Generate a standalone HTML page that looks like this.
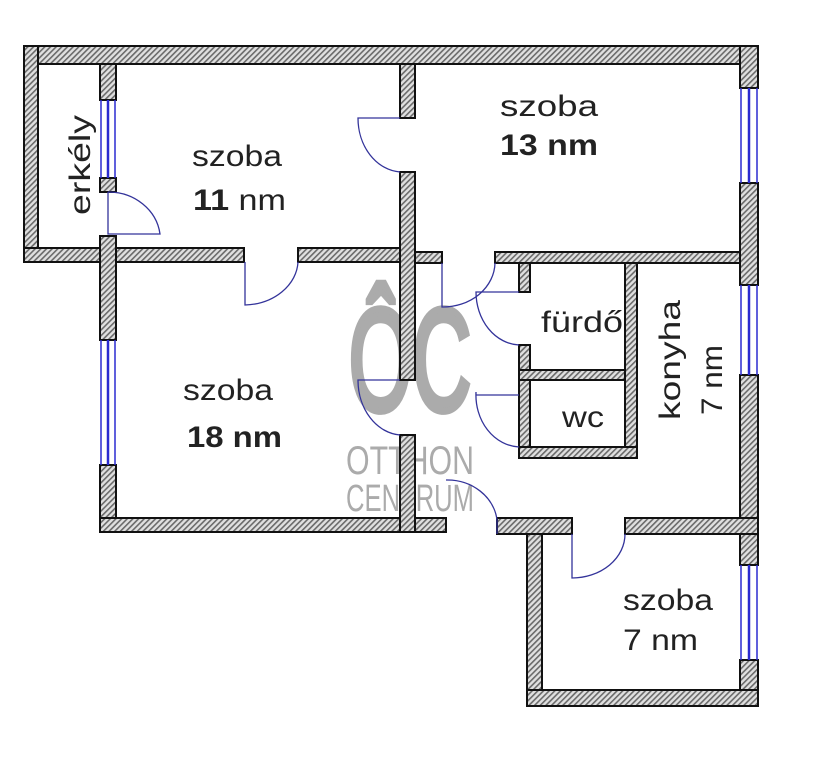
<!DOCTYPE html>
<html><head><meta charset="utf-8"><style>
html,body{margin:0;padding:0;background:#fff;}
svg{display:block}
text{font-family:"Liberation Sans",sans-serif;fill:#222}
</style></head><body>
<svg width="822" height="768" viewBox="0 0 822 768" xmlns="http://www.w3.org/2000/svg">
<defs>
<pattern id="h" width="4" height="4" patternUnits="userSpaceOnUse" patternTransform="rotate(45)">
<rect width="4" height="4" fill="#e0e0e0"/><rect width="1.6" height="4" fill="#6a6a6a"/>
</pattern>
</defs>
<rect width="822" height="768" fill="#fff"/>
<g>
<text x="410" y="410" font-size="145" text-anchor="middle" style="fill:#ababab;stroke:#ababab;stroke-width:7" textLength="122" lengthAdjust="spacingAndGlyphs">ÔC</text>
<text x="410" y="474" font-size="40" text-anchor="middle" style="fill:#ababab" textLength="128" lengthAdjust="spacingAndGlyphs">OTTHON</text>
<text x="410" y="511" font-size="38" text-anchor="middle" style="fill:#ababab" textLength="128" lengthAdjust="spacingAndGlyphs">CENTRUM</text>
</g>
<g fill="url(#h)" stroke="#111" stroke-width="2">
<rect x="24" y="46" width="734" height="18"/>
<rect x="24" y="46" width="14" height="216"/>
<rect x="24" y="248" width="220" height="14"/>
<rect x="298" y="248" width="117" height="14"/>
<rect x="100" y="64" width="16" height="36"/>
<rect x="100" y="178" width="16" height="14"/>
<rect x="100" y="236" width="16" height="104"/>
<rect x="100" y="465" width="16" height="67"/>
<rect x="100" y="518" width="346" height="14"/>
<rect x="400" y="64" width="15" height="54"/>
<rect x="400" y="172" width="15" height="208"/>
<rect x="400" y="435" width="15" height="97"/>
<rect x="415" y="252" width="27" height="11"/>
<rect x="495" y="252" width="245" height="11"/>
<rect x="740" y="46" width="18" height="42"/>
<rect x="740" y="183" width="18" height="102"/>
<rect x="740" y="375" width="18" height="190"/>
<rect x="740" y="660" width="18" height="46"/>
<rect x="497" y="518" width="75" height="16"/>
<rect x="625" y="518" width="133" height="16"/>
<rect x="527" y="534" width="15" height="172"/>
<rect x="527" y="690" width="231" height="16"/>
<rect x="519" y="263" width="11" height="29"/>
<rect x="519" y="345" width="11" height="113"/>
<rect x="519" y="370" width="118" height="10"/>
<rect x="625" y="263" width="12" height="195"/>
<rect x="519" y="447" width="118" height="11"/>
</g>
<g stroke="#2b2bd0" stroke-width="1.5" fill="none">
<line x1="101" y1="100" x2="101" y2="178"/><line x1="108" y1="100" x2="108" y2="178" stroke-width="2.5"/><line x1="115" y1="100" x2="115" y2="178"/>
<line x1="101" y1="340" x2="101" y2="465"/><line x1="108" y1="340" x2="108" y2="465" stroke-width="2.5"/><line x1="115" y1="340" x2="115" y2="465"/>
<line x1="741" y1="88" x2="741" y2="183"/><line x1="749" y1="88" x2="749" y2="183" stroke-width="2.5"/><line x1="757" y1="88" x2="757" y2="183"/>
<line x1="741" y1="285" x2="741" y2="375"/><line x1="749" y1="285" x2="749" y2="375" stroke-width="2.5"/><line x1="757" y1="285" x2="757" y2="375"/>
<line x1="741" y1="565" x2="741" y2="660"/><line x1="749" y1="565" x2="749" y2="660" stroke-width="2.5"/><line x1="757" y1="565" x2="757" y2="660"/>
</g>
<g stroke="#33339a" stroke-width="1.3" fill="none">
<path d="M108 192 L108 234 L160 234 A52 48 0 0 0 108 192"/>
<path d="M245 262 L245 305 A55 45 0 0 0 298 262"/>
<path d="M400 118 L358 118 A45 54 0 0 0 400 172"/>
<path d="M442 263 L442 307 A52 45 0 0 0 495 263"/>
<path d="M519 292 L476 292 A45 53 0 0 0 519 345"/>
<path d="M400 380 L358 380 A45 55 0 0 0 400 435" />
<path d="M519 395 L476 395 L476 392 A45 52 0 0 0 519 447"/>
<path d="M446 480 A50 45 0 0 1 497 520 L497 534"/>
<path d="M572 534 L572 578 A53 44 0 0 0 625 534"/>
</g>
<g font-size="30">
<text x="192" y="166" textLength="90" lengthAdjust="spacingAndGlyphs">szoba</text>
<text x="193" y="210" font-weight="bold" textLength="93" lengthAdjust="spacingAndGlyphs">11 <tspan font-weight="normal">nm</tspan></text>
<text x="500" y="116" textLength="98" lengthAdjust="spacingAndGlyphs">szoba</text>
<text x="500" y="155" font-weight="bold" textLength="98" lengthAdjust="spacingAndGlyphs">13 nm</text>
<text x="183" y="400" textLength="90" lengthAdjust="spacingAndGlyphs">szoba</text>
<text x="187" y="447" font-weight="bold" textLength="95" lengthAdjust="spacingAndGlyphs">18 nm</text>
<text x="623" y="610" textLength="90" lengthAdjust="spacingAndGlyphs">szoba</text>
<text x="623" y="650" textLength="75" lengthAdjust="spacingAndGlyphs">7 nm</text>
<text x="541" y="332" textLength="82" lengthAdjust="spacingAndGlyphs">fürdő</text>
<text x="562" y="427" textLength="42" lengthAdjust="spacingAndGlyphs">wc</text>
<text transform="translate(680,420) rotate(-90)" textLength="120" lengthAdjust="spacingAndGlyphs">konyha</text>
<text transform="translate(722,415) rotate(-90)" textLength="70" lengthAdjust="spacingAndGlyphs">7 nm</text>
<text transform="translate(90,215) rotate(-90)" textLength="100" lengthAdjust="spacingAndGlyphs">erkély</text>
</g>
</svg>
</body></html>
